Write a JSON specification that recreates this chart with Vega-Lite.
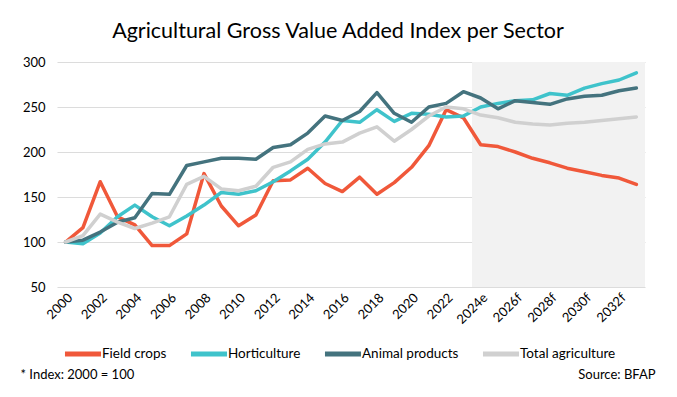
{
  "$schema": "https://vega.github.io/schema/vega-lite/v6.json",
  "width": 588,
  "height": 225,
  "autosize": {"type": "none"},
  "padding": {"left": 57, "top": 62, "right": 32, "bottom": 110},
  "background": "white",
  "config": {"font": "Lato", "view": {"stroke": null}},
  "title": {
    "text": "Agricultural Gross Value Added Index per Sector",
    "fontSize": 21.5,
    "fontWeight": "normal",
    "color": "#000000",
    "anchor": "middle",
    "dx": -13,
    "offset": 14
  },
  "encoding": {
    "x": {
      "field": "year",
      "type": "quantitative",
      "scale": {"domain": [1999.5, 2033.5], "nice": false, "zero": false},
      "axis": {
        "values": [2000, 2002, 2004, 2006, 2008, 2010, 2012, 2014, 2016, 2018, 2020, 2022, 2024, 2026, 2028, 2030, 2032],
        "labelExpr": "datum.value < 2024 ? '' + datum.value : (datum.value == 2024 ? '2024e' : datum.value + 'f')",
        "labelAngle": -45,
        "labelOverlap": false,
        "labelFontSize": 13,
        "labelColor": "#000000",
        "labelPadding": 4,
        "domain": false,
        "ticks": false,
        "grid": false,
        "title": "* Index: 2000 = 100",
        "titleX": -37,
        "titleY": 87,
        "titleAlign": "left",
        "titleAnchor": "start",
        "titleBaseline": "middle",
        "titleFontSize": 13,
        "titleFontWeight": "normal",
        "titleColor": "#000000"
      }
    },
    "y": {
      "field": "value",
      "type": "quantitative",
      "scale": {"domain": [50, 300], "nice": false, "zero": false},
      "axis": {
        "values": [50, 100, 150, 200, 250, 300],
        "grid": true,
        "gridColor": "#dcdcdc",
        "gridWidth": 1.2,
        "domain": false,
        "ticks": false,
        "labelFontSize": 13,
        "labelPadding": 12,
        "labelColor": "#000000",
        "title": "Source: BFAP",
        "titleAngle": 0,
        "titleX": 598,
        "titleY": 312,
        "titleAlign": "right",
        "titleBaseline": "middle",
        "titleFontSize": 13,
        "titleFontWeight": "normal",
        "titleColor": "#000000"
      }
    }
  },
  "layer": [
    {
      "data": {"values": [{"year": 2023.5, "year_end": 2033.5, "value": 300, "value_end": 50}]},
      "mark": {"type": "rect", "color": "#f2f2f2"},
      "encoding": {
        "x2": {"field": "year_end"},
        "y2": {"field": "value_end"}
      }
    },
    {
      "data": {"values": [
        {"year": 2000, "Field crops": 100, "Horticulture": 100, "Animal products": 100, "Total agriculture": 100},
        {"year": 2001, "Field crops": 116, "Horticulture": 98, "Animal products": 102, "Total agriculture": 107},
        {"year": 2002, "Field crops": 167, "Horticulture": 110, "Animal products": 111, "Total agriculture": 131},
        {"year": 2003, "Field crops": 128, "Horticulture": 128, "Animal products": 122, "Total agriculture": 122},
        {"year": 2004, "Field crops": 119, "Horticulture": 141, "Animal products": 127, "Total agriculture": 115},
        {"year": 2005, "Field crops": 96, "Horticulture": 128, "Animal products": 154, "Total agriculture": 121},
        {"year": 2006, "Field crops": 96, "Horticulture": 118, "Animal products": 153, "Total agriculture": 128},
        {"year": 2007, "Field crops": 109, "Horticulture": 129, "Animal products": 185, "Total agriculture": 164},
        {"year": 2008, "Field crops": 176, "Horticulture": 141, "Animal products": 189, "Total agriculture": 173},
        {"year": 2009, "Field crops": 140, "Horticulture": 155, "Animal products": 193, "Total agriculture": 159},
        {"year": 2010, "Field crops": 118, "Horticulture": 153, "Animal products": 193, "Total agriculture": 157},
        {"year": 2011, "Field crops": 130, "Horticulture": 157, "Animal products": 192, "Total agriculture": 162},
        {"year": 2012, "Field crops": 168, "Horticulture": 167, "Animal products": 205, "Total agriculture": 183},
        {"year": 2013, "Field crops": 169, "Horticulture": 179, "Animal products": 208, "Total agriculture": 189},
        {"year": 2014, "Field crops": 182, "Horticulture": 192, "Animal products": 221, "Total agriculture": 203},
        {"year": 2015, "Field crops": 165, "Horticulture": 211, "Animal products": 240, "Total agriculture": 209},
        {"year": 2016, "Field crops": 156, "Horticulture": 235, "Animal products": 235, "Total agriculture": 211},
        {"year": 2017, "Field crops": 172, "Horticulture": 233, "Animal products": 245, "Total agriculture": 221},
        {"year": 2018, "Field crops": 153, "Horticulture": 247, "Animal products": 266, "Total agriculture": 228},
        {"year": 2019, "Field crops": 166, "Horticulture": 234, "Animal products": 243, "Total agriculture": 212},
        {"year": 2020, "Field crops": 183, "Horticulture": 243, "Animal products": 233, "Total agriculture": 225},
        {"year": 2021, "Field crops": 207, "Horticulture": 242, "Animal products": 250, "Total agriculture": 240},
        {"year": 2022, "Field crops": 247, "Horticulture": 239, "Animal products": 254, "Total agriculture": 250},
        {"year": 2023, "Field crops": 238, "Horticulture": 240, "Animal products": 267, "Total agriculture": 248},
        {"year": 2024, "Field crops": 208, "Horticulture": 250, "Animal products": 260, "Total agriculture": 241},
        {"year": 2025, "Field crops": 206, "Horticulture": 254, "Animal products": 248, "Total agriculture": 238},
        {"year": 2026, "Field crops": 200, "Horticulture": 257, "Animal products": 257, "Total agriculture": 233},
        {"year": 2027, "Field crops": 193, "Horticulture": 258, "Animal products": 255, "Total agriculture": 231},
        {"year": 2028, "Field crops": 188, "Horticulture": 265, "Animal products": 253, "Total agriculture": 230},
        {"year": 2029, "Field crops": 182, "Horticulture": 263, "Animal products": 259, "Total agriculture": 232},
        {"year": 2030, "Field crops": 178, "Horticulture": 271, "Animal products": 262, "Total agriculture": 233},
        {"year": 2031, "Field crops": 174, "Horticulture": 276, "Animal products": 263, "Total agriculture": 235},
        {"year": 2032, "Field crops": 171, "Horticulture": 280, "Animal products": 268, "Total agriculture": 237},
        {"year": 2033, "Field crops": 164, "Horticulture": 288, "Animal products": 271, "Total agriculture": 239}
      ]},
      "transform": [{"fold": ["Field crops", "Horticulture", "Animal products", "Total agriculture"], "as": ["sector", "value"]}],
      "mark": {"type": "line", "strokeWidth": 3.5, "strokeJoin": "round", "strokeCap": "round"},
      "encoding": {
        "color": {
          "field": "sector",
          "type": "nominal",
          "sort": ["Field crops", "Horticulture", "Animal products", "Total agriculture"],
          "scale": {
            "domain": ["Field crops", "Horticulture", "Animal products", "Total agriculture"],
            "range": ["#f0583a", "#3fc3cb", "#44737e", "#d0d0d0"]
          },
          "legend": {
            "orient": "none",
            "legendX": 5,
            "legendY": 271,
            "direction": "horizontal",
            "title": null,
            "symbolType": "stroke",
            "symbolStrokeWidth": 5,
            "symbolSize": 1300,
            "labelFontSize": 13.5,
            "labelOffset": -2,
            "labelColor": "#000000",
            "columnPadding": 13
          }
        }
      }
    }
  ]
}
